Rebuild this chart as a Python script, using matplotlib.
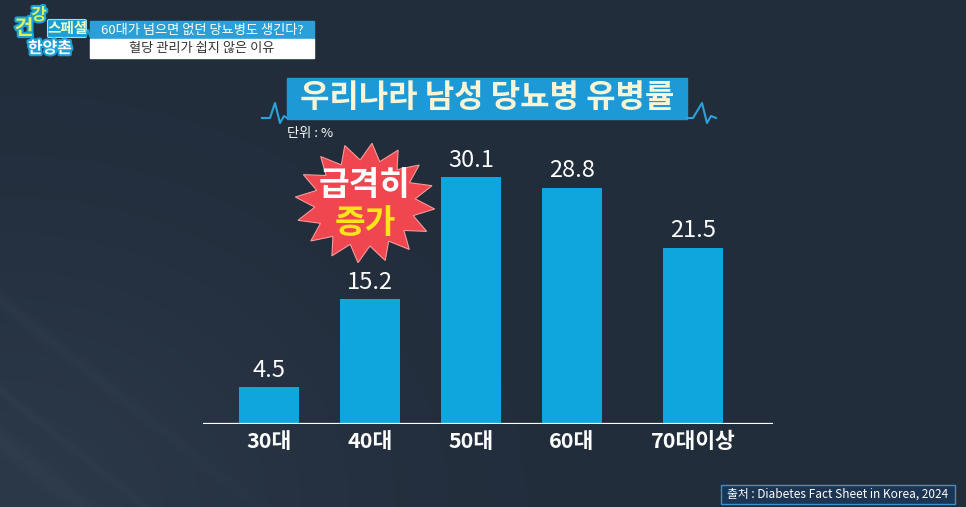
import numpy as np
import matplotlib
matplotlib.use("Agg")
from matplotlib import pyplot as plt
from matplotlib.patches import Rectangle, Polygon, FancyBboxPatch
import matplotlib.patheffects as pe

plt.rcParams["font.family"] = ["Noto Sans CJK KR", "DejaVu Sans"]

# data
categories = ["30대", "40대", "50대", "60대", "70대이상"]
values = [4.5, 15.2, 30.1, 28.8, 21.5]
value_labels = ["4.5", "15.2", "30.1", "28.8", "21.5"]

title = "우리나라 남성 당뇨병 유병률"
unit_text = "단위 : %"
burst_lines = ["급격히", "증가"]
source_text = "출처 : Diabetes Fact Sheet in Korea, 2024"
headline = "60대가 넘으면 없던 당뇨병도 생긴다?"
subline = "혈당 관리가 쉽지 않은 이유"

W, H = 966, 507
BAR = "#0fa6dd"
CYAN = "#2aa3dc"

fig = plt.figure(figsize=(W / 100, H / 100), dpi=100)

# background with a soft glow and faint streaks in the lower left
bg = fig.add_axes([0, 0, 1, 1], zorder=0)
yy, xx = np.mgrid[0:H, 0:W].astype(float)
base = np.array([0x22, 0x2d, 0x3c]) / 255.0
glow = np.exp(-((xx / 330.0) ** 2 + ((H - yy) / 260.0) ** 2)) * 0.045
streak = np.zeros_like(xx)
for off, wdt in [(300, 6.0), (390, 4.0), (440, 10.0)]:
    dist = np.abs(yy - (off + 0.8 * xx)) / 1.28
    streak += np.exp(-(dist / wdt) ** 2) * 0.018 * np.exp(-xx / 260.0)
img = np.clip(base[None, None, :] + (glow + streak)[:, :, None] * np.array([0.8, 1.0, 1.1]), 0, 1)
bg.imshow(img, aspect="auto", extent=[0, W, H, 0])
bg.set_xlim(0, W)
bg.set_ylim(H, 0)
bg.axis("off")

# bar chart
x = np.arange(len(categories), dtype=float)
x[-1] += 0.2
left_px, right_px, base_px, top_px = 203, 773, 424, 129
ax = fig.add_axes([left_px / W, (H - base_px) / H, (right_px - left_px) / W, (base_px - top_px) / H], zorder=1)
ax.patch.set_alpha(0)
ax.bar(x, values, width=0.594, color=BAR)
ax.set_xlim(-0.653, 4.99)
ax.set_ylim(0, 36)
ax.axhline(0, color="white", lw=1.6)
for s in ax.spines.values():
    s.set_visible(False)
ax.set_yticks([])
ax.set_xticks(x)
ax.set_xticklabels(categories, color="white", fontsize=15.5, fontweight="bold")
ax.tick_params(axis="x", length=0, pad=5)
for xi, v, lab in zip(x, values, value_labels):
    ax.annotate(lab, (xi, v), xytext=(0, 4), textcoords="offset points",
                ha="center", va="bottom", color="white", fontsize=17, clip_on=False)

# overlay for decorations, pixel coordinates
ov = fig.add_axes([0, 0, 1, 1], zorder=2)
ov.patch.set_alpha(0)
ov.set_xlim(0, W)
ov.set_ylim(H, 0)
ov.axis("off")

# title banner
ov.add_patch(Rectangle((287, 78), 400, 41, color="#1d9ad6"))
ov.text(487, 98, title, ha="center", va="center", color="#fdf5d6",
        fontsize=23, fontweight=900)
ov.plot([262, 270, 275, 280, 284, 287], [118, 118, 103, 123, 116, 118], color=CYAN, lw=1.5)
ov.plot([687, 693, 702, 707, 711, 716], [118, 118, 103, 123, 116, 118], color=CYAN, lw=1.5)
ov.text(287, 133, unit_text, ha="left", va="center", color="white", fontsize=9.5)

# starburst
n = 16
ang = np.linspace(0, 2 * np.pi, 2 * n, endpoint=False) + 0.1
rad = np.where(np.arange(2 * n) % 2 == 0, 1.0, 0.72)
cx, cy = 365, 203
pts = np.column_stack([cx + 70 * rad * np.cos(ang), cy + 60 * rad * np.sin(ang)])
ov.add_patch(Polygon(pts, closed=True, facecolor="#f0464f", edgecolor="#f59a9a", lw=0.8))
ov.text(cx, 186, burst_lines[0], ha="center", va="center", color="white",
        fontsize=24, fontweight=900)
ov.text(cx, 223, burst_lines[1], ha="center", va="center", color="#ffe41a",
        fontsize=24, fontweight=900)

# programme caption, top left
ov.add_patch(Rectangle((90, 21), 224, 18, color="#2b9fd8"))
ov.add_patch(Rectangle((90, 39), 224, 19, color="white"))
ov.text(202, 30, headline, ha="center", va="center", color="white", fontsize=9.5)
ov.text(202, 48.5, subline, ha="center", va="center", color="#333333", fontsize=9.5)

stroke = [pe.withStroke(linewidth=3, foreground="#1aa0d8")]
ov.add_patch(FancyBboxPatch((49, 21), 36, 15, boxstyle="round,pad=1.5",
                            facecolor="#1aa0d8", edgecolor="#8fe3ff", lw=0.8))
ov.text(24, 28, "건", ha="center", va="center", color="#d9f25a", fontsize=15,
        fontweight=900, path_effects=stroke)
ov.text(39, 15, "강", ha="center", va="center", color="#d9f25a", fontsize=12,
        fontweight=900, path_effects=stroke)
ov.text(67, 28, "스페셜", ha="center", va="center", color="#f4ffc0", fontsize=10.5,
        fontweight=900)
ov.plot([84, 86, 88, 90], [36, 36, 30, 36], color="#1aa0d8", lw=1.5)
ov.text(50, 48, "한양촌", ha="center", va="center", color="white", fontsize=11.5,
        fontweight=900, path_effects=stroke)

# source box
ov.add_patch(Rectangle((721, 485), 234, 19, facecolor="#1c3552", edgecolor="#3a8fd0", lw=1))
ov.text(838, 494.5, source_text, ha="center", va="center", color="white", fontsize=8.5)

fig.savefig("out.png", dpi=100)
